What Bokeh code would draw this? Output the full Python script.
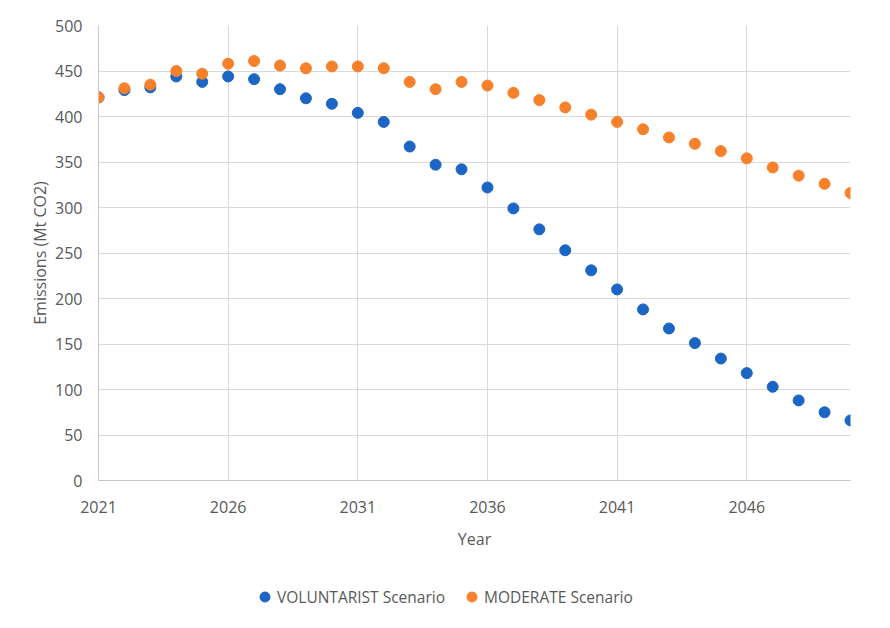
from bokeh.plotting import figure
from bokeh.layouts import column
from bokeh.models import FixedTicker, Legend, LegendItem, Range1d
from bokeh.embed import file_html
from bokeh.resources import INLINE

years = [2021, 2022, 2023, 2024, 2025, 2026, 2027, 2028, 2029, 2030,
         2031, 2032, 2033, 2034, 2035, 2036, 2037, 2038, 2039, 2040,
         2041, 2042, 2043, 2044, 2045, 2046, 2047, 2048, 2049, 2050]
voluntarist = [421, 429, 432, 444, 438, 444, 441, 430, 420, 414,
               404, 394, 367, 347, 342, 322, 299, 276, 253, 231,
               210, 188, 167, 151, 134, 118, 103, 88, 75, 66]
moderate = [421, 431, 435, 450, 447, 458, 461, 456, 453, 455,
            455, 453, 438, 430, 438, 434, 426, 418, 410, 402,
            394, 386, 377, 370, 362, 354, 344, 335, 326, 316]
series_names = ["VOLUNTARIST Scenario", "MODERATE Scenario"]
x_ticks = [2021, 2026, 2031, 2036, 2041, 2046]
y_ticks = [0, 50, 100, 150, 200, 250, 300, 350, 400, 450, 500]

BLUE = "#1b66c4"
ORANGE = "#f7802a"
TEXT = "#595959"
FONT = "Open Sans"

p = figure(width=888, height=560, output_backend="svg", toolbar_location=None,
           x_range=Range1d(2021, 2050), y_range=Range1d(0, 500),
           min_border_left=98, min_border_right=38, min_border_top=25,
           min_border_bottom=80)
p.outline_line_color = None
p.background_fill_color = "white"
p.border_fill_color = "white"

p.scatter(years, voluntarist, size=11, color=BLUE)
p.scatter(years, moderate, size=11, color=ORANGE)

p.xaxis.ticker = FixedTicker(ticks=x_ticks)
p.yaxis.ticker = FixedTicker(ticks=y_ticks)
p.xgrid.ticker = FixedTicker(ticks=x_ticks[1:])
p.ygrid.ticker = FixedTicker(ticks=y_ticks[1:])
p.grid.grid_line_color = "#d9d9d9"
p.grid.grid_line_width = 1

for ax in (p.xaxis, p.yaxis):
    ax.axis_line_color = "#c6c6c6"
    ax.major_tick_line_color = None
    ax.minor_tick_line_color = None
    ax.major_label_text_font = FONT
    ax.major_label_text_font_size = "16px"
    ax.major_label_text_color = TEXT
    ax.axis_label_text_font = FONT
    ax.axis_label_text_font_size = "16px"
    ax.axis_label_text_color = TEXT
    ax.axis_label_text_font_style = "normal"

p.xaxis.axis_label = "Year"
p.yaxis.axis_label = "Emissions (Mt CO2)"
p.xaxis.major_label_standoff = 14
p.yaxis.major_label_standoff = 10
p.xaxis.axis_label_standoff = 12
p.yaxis.axis_label_standoff = 1

# legend strip below the chart (its series lie outside its visible window)
lf = figure(width=888, height=66, output_backend="svg", toolbar_location=None,
            x_range=Range1d(0, 1), y_range=Range1d(0, 1),
            x_axis_type=None, y_axis_type=None,
            min_border_left=0, min_border_right=0, min_border_top=0,
            min_border_bottom=0)
lf.outline_line_color = None
lf.grid.visible = False
lr1 = lf.scatter(years, voluntarist, size=11, color=BLUE)
lr2 = lf.scatter(years, moderate, size=11, color=ORANGE)

legend = Legend(items=[LegendItem(label=series_names[0], renderers=[lr1]),
                       LegendItem(label=series_names[1], renderers=[lr2])],
                orientation="horizontal", location=(154, 17),
                glyph_width=25, glyph_height=25, label_standoff=-3, spacing=14,
                padding=0, margin=0, border_line_color=None,
                background_fill_alpha=0,
                label_text_font=FONT, label_text_font_size="15.5px",
                label_text_color=TEXT)
lf.add_layout(legend, "center")

layout = column(p, lf, spacing=0)
open("out.html", "w").write(file_html(layout, INLINE))
